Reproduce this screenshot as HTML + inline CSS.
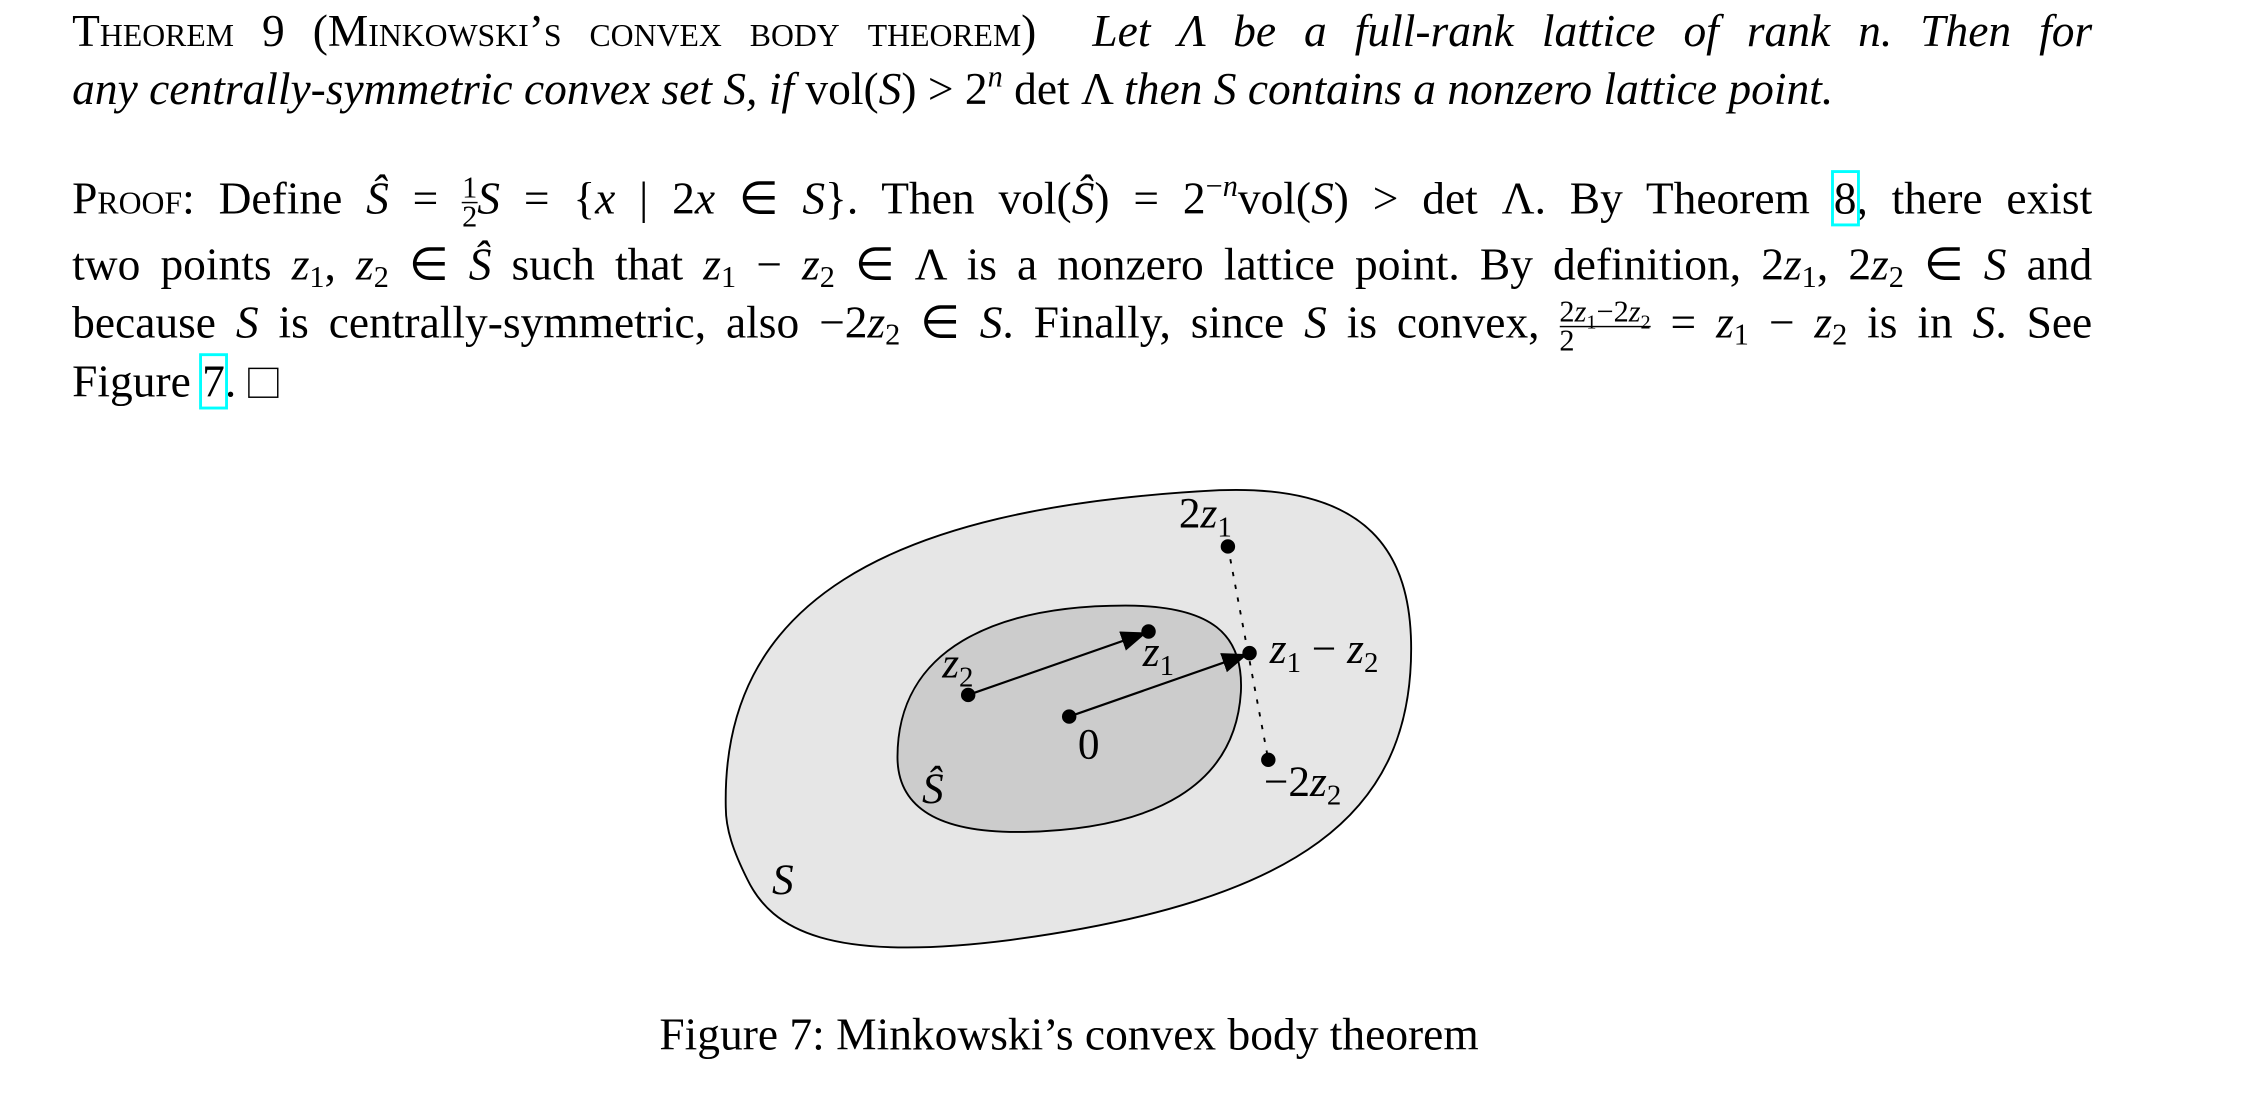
<!DOCTYPE html>
<html><head><meta charset="utf-8"><style>
html,body{margin:0;padding:0;background:#fff;overflow:hidden}
#w{position:absolute;left:0;top:0;width:1560px;height:765px;transform-origin:0 0;transform:scale(1.4429,1.4418)}
.l{position:absolute;left:50px;width:1400px;font-family:"Liberation Serif",serif;font-size:31.5px;line-height:36px;text-align:justify;text-align-last:justify;white-space:nowrap;color:#000}
.nl{text-align-last:left}
.sc{font-variant:small-caps}
i{font-style:italic}
sub{font-size:21px;vertical-align:-5px;line-height:0}
sup{font-size:21px;vertical-align:12px;line-height:0}
.bx{outline:2.5px solid #00ffff;outline-offset:0}
.fr{display:inline-block;vertical-align:middle;text-align:center;font-size:21px;line-height:19px}
.fr span{display:block}
.fr .t{border-bottom:1.5px solid #000}
svg text{font-family:"Liberation Serif",serif;font-size:30px}
</style></head><body><div id="w">
<div class="l" style="top:4px"><span class="sc">Theorem 9 (Minkowski’s convex body theorem)</span>&nbsp; <i>Let Λ be a full-rank lattice of rank n. Then for</i></div>
<div class="l nl" style="top:44px"><i>any centrally-symmetric convex set S, if</i> vol(<i>S</i>) &gt; 2<sup><i>n</i></sup> det Λ <i>then S contains a nonzero lattice point.</i></div>
<div class="l" style="top:120px"><span class="sc">Proof</span>: Define <i>Ŝ</i> = <span class="fr"><span class="t">1</span><span>2</span></span><i>S</i> = {<i>x</i> | 2<i>x</i> ∈ <i>S</i>}. Then vol(<i>Ŝ</i>) = 2<sup>−<i>n</i></sup>vol(<i>S</i>) &gt; det Λ. By Theorem <span class="bx">8</span>, there exist</div>
<div class="l" style="top:166px">two points <i>z</i><sub>1</sub>, <i>z</i><sub>2</sub> ∈ <i>Ŝ</i> such that <i>z</i><sub>1</sub> − <i>z</i><sub>2</sub> ∈ Λ is a nonzero lattice point. By definition, 2<i>z</i><sub>1</sub>, 2<i>z</i><sub>2</sub> ∈ <i>S</i> and</div>
<div class="l" style="top:206px">because <i>S</i> is centrally-symmetric, also −2<i>z</i><sub>2</sub> ∈ <i>S</i>. Finally, since <i>S</i> is convex, <span class="fr"><span class="t">2<i>z</i><sub style="font-size:14px">1</sub>−2<i>z</i><sub style="font-size:14px">2</sub></span><span>2</span></span> = <i>z</i><sub>1</sub> − <i>z</i><sub>2</sub> is in <i>S</i>. See</div>
<div class="l nl" style="top:247px">Figure <span class="bx">7</span>. <span style="display:inline-block;width:19px;height:19px;border:1.5px solid #000;vertical-align:-1px"></span></div>
<svg style="position:absolute;left:0;top:0" width="1560" height="765">
<defs><marker id="a" markerWidth="18" markerHeight="14" refX="17" refY="7" orient="auto" markerUnits="userSpaceOnUse"><path d="M0,0 L18,7 L0,14 Z" fill="#000"/></marker></defs>
<path d="M503,560 C500,420 610,352 845,340 C950,336 978,385 978,450 C978,565 900,625 700,652 C575,668 535,645 518,610 C508,590 503,575 503,560 Z" fill="#e6e6e6" stroke="#000" stroke-width="1.3"/>
<path d="M622,525 C622,450 690,420 780,420 C840,420 862,440 860,480 C856,545 800,575 710,577 C650,578 622,560 622,525 Z" fill="#cccccc" stroke="#000" stroke-width="1.3"/>
<line x1="851" y1="379" x2="879" y2="527" stroke="#000" stroke-width="1.3" stroke-dasharray="3,6"/>
<line x1="671" y1="482" x2="794" y2="439" stroke="#000" stroke-width="1.5" marker-end="url(#a)"/>
<line x1="741" y1="497" x2="864" y2="454" stroke="#000" stroke-width="1.5" marker-end="url(#a)"/>
<g fill="#000"><circle cx="851" cy="379" r="5"/><circle cx="796" cy="438" r="5"/><circle cx="866" cy="453" r="5"/><circle cx="671" cy="482" r="5"/><circle cx="741" cy="497" r="5"/><circle cx="879" cy="527" r="5"/></g>
<text x="817" y="366">2<tspan font-style="italic">z</tspan><tspan font-size="20" dy="6">1</tspan></text>
<text x="792" y="462" font-style="italic">z<tspan font-size="20" dy="6" font-style="normal">1</tspan></text>
<text x="880" y="460" font-style="italic">z<tspan font-size="20" dy="6" font-style="normal">1</tspan><tspan dy="-6" font-style="normal"> − </tspan>z<tspan font-size="20" dy="6" font-style="normal">2</tspan></text>
<text x="653" y="470" font-style="italic">z<tspan font-size="20" dy="6" font-style="normal">2</tspan></text>
<text x="747" y="526">0</text>
<text x="639" y="557" font-style="italic">Ŝ</text>
<text x="876" y="552">−2<tspan font-style="italic">z</tspan><tspan font-size="20" dy="6">2</tspan></text>
<text x="535" y="620" font-style="italic">S</text>
</svg>
<div style="position:absolute;left:457px;top:700px;font-family:'Liberation Serif',serif;font-size:31.5px;white-space:nowrap">Figure 7: Minkowski’s convex body theorem</div>
</div></body></html>
